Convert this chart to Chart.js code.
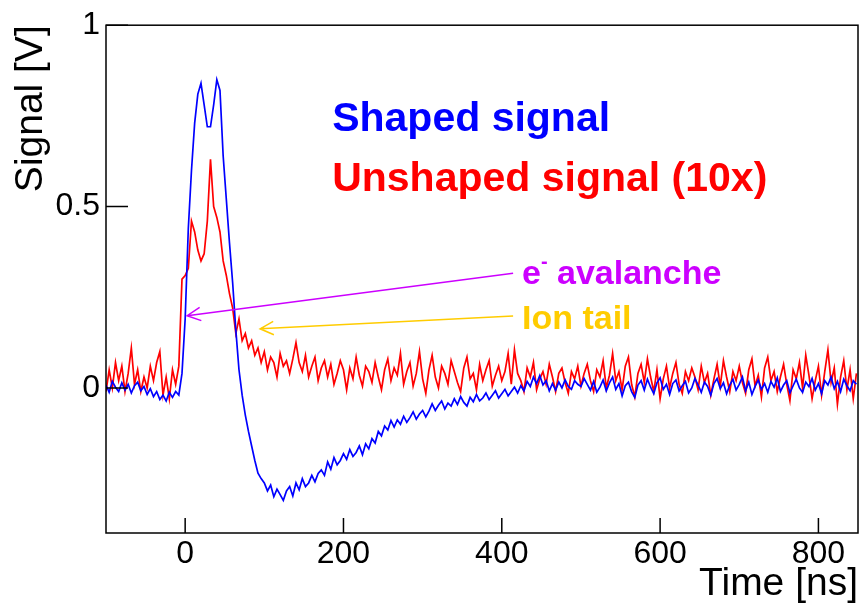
<!DOCTYPE html>
<html>
<head>
<meta charset="utf-8">
<script src="https://cdn.jsdelivr.net/npm/chart.js@4.4.1/dist/chart.umd.min.js"></script>
<style>
  html, body { margin: 0; padding: 0; background: #fff; }
</style>
</head>
<body>
<canvas id="signal" width="864" height="610"></canvas>
<script>
// scope traces, one sample every 4 ns starting at -100 ns
const t0 = -100
const dt = 4

// shaped signal [V]
const shaped = [
  0.008, -0.012, 0.018, 0.002, -0.010, 0.014, -0.006, 0.010, -0.014, 0.006,
  0.016, -0.008, 0.004, -0.018, -0.002, -0.024, -0.010, -0.032, -0.020, -0.036,
  -0.012, -0.026, -0.010, -0.020, 0.040, 0.190, 0.440, 0.600, 0.730, 0.810,
  0.840, 0.780, 0.720, 0.720, 0.780, 0.850, 0.820, 0.640, 0.520, 0.400,
  0.290, 0.160, 0.050, -0.020, -0.075, -0.120, -0.160, -0.200, -0.235, -0.250,
  -0.262, -0.284, -0.268, -0.300, -0.279, -0.294, -0.310, -0.284, -0.272, -0.298,
  -0.262, -0.281, -0.250, -0.272, -0.262, -0.241, -0.259, -0.236, -0.226, -0.241,
  -0.204, -0.224, -0.192, -0.212, -0.200, -0.181, -0.197, -0.170, -0.189, -0.178,
  -0.160, -0.184, -0.154, -0.168, -0.140, -0.152, -0.120, -0.132, -0.105, -0.116,
  -0.090, -0.108, -0.088, -0.100, -0.078, -0.095, -0.082, -0.066, -0.086, -0.072,
  -0.062, -0.080, -0.064, -0.044, -0.062, -0.048, -0.036, -0.058, -0.042, -0.050,
  -0.030, -0.046, -0.024, -0.040, -0.050, -0.026, -0.038, -0.018, -0.036, -0.028,
  -0.014, -0.032, -0.020, -0.008, -0.028, -0.016, -0.004, -0.022, -0.010, 0.002,
  -0.014, 0.006, -0.008, 0.018, 0.004, 0.030, 0.012, 0.034, 0.008, 0.020,
  -0.008, 0.012, -0.006, 0.016, 0.000, 0.022, 0.004, -0.004, 0.020, 0.010,
  0.004, 0.026, 0.010, -0.006, 0.018, -0.012, 0.002, 0.022, -0.008, 0.014,
  0.030, -0.004, 0.012, -0.022, 0.006, 0.016, -0.010, -0.026, 0.008, 0.020,
  -0.006, 0.024, 0.002, -0.016, 0.014, 0.028, -0.004, 0.010, -0.018, 0.012,
  0.022, -0.008, 0.006, 0.018, -0.014, 0.000, 0.026, 0.008, -0.012, 0.016,
  0.004, -0.020, 0.012, 0.026, -0.002, 0.014, -0.016, 0.008, 0.024, -0.006,
  0.010, 0.030, -0.008, 0.016, -0.018, 0.004, 0.022, -0.004, 0.012, -0.012,
  0.018, 0.002, 0.028, -0.010, 0.008, 0.020, -0.014, 0.006, 0.024, 0.000,
  -0.012, 0.016, 0.004, 0.026, -0.006, 0.012, -0.016, 0.020, 0.008, 0.030,
  -0.002, 0.018, -0.010, 0.024, 0.006, -0.008, 0.020, 0.010,
]

// unshaped signal, already scaled by 10 [V]
const unshaped = [
  -0.010, 0.050, 0.000, 0.070, 0.020, 0.060, -0.010, 0.040, 0.110, 0.010,
  0.050, -0.010, 0.030, 0.000, 0.060, 0.020, 0.070, 0.100, -0.020, 0.030,
  -0.030, 0.050, 0.010, 0.060, 0.300, 0.310, 0.330, 0.460, 0.430, 0.380,
  0.350, 0.370, 0.460, 0.630, 0.500, 0.470, 0.430, 0.350, 0.310, 0.260,
  0.220, 0.150, 0.190, 0.130, 0.150, 0.110, 0.130, 0.090, 0.110, 0.070,
  0.100, 0.050, 0.085, 0.070, 0.030, 0.095, 0.060, 0.075, 0.040, 0.080,
  0.125, 0.070, 0.045, 0.090, 0.030, 0.060, 0.085, 0.020, 0.055, 0.075,
  0.030, 0.065, 0.010, 0.040, 0.075, 0.050, -0.005, 0.055, 0.025, 0.085,
  0.035, 0.005, 0.060, 0.045, 0.015, 0.070, 0.030, -0.005, 0.050, 0.080,
  0.020, 0.055, 0.035, 0.095, 0.010, 0.045, 0.070, 0.005, 0.040, 0.100,
  0.025, -0.015, 0.050, 0.090, 0.030, 0.000, 0.060, 0.040, 0.010, 0.075,
  0.045, 0.015, -0.010, 0.055, 0.085, 0.025, 0.040, -0.005, 0.065, 0.020,
  0.050, 0.075, 0.005, 0.035, 0.060, 0.020, 0.045, 0.095, 0.010, 0.105,
  0.040, 0.020, -0.010, 0.055, 0.030, 0.070, -0.005, 0.025, 0.045, 0.010,
  0.065, 0.030, -0.010, 0.040, 0.055, 0.015, -0.015, 0.045, 0.025, 0.060,
  0.005, 0.040, 0.065, 0.020, -0.010, 0.050, 0.030, 0.075, 0.000, 0.035,
  0.095, 0.020, 0.045, -0.005, 0.060, 0.085, 0.010, -0.025, 0.040, 0.065,
  0.015, 0.080, 0.030, -0.010, 0.050, -0.030, 0.025, 0.060, 0.000, 0.040,
  0.070, 0.010, -0.015, 0.045, 0.020, 0.055, 0.030, -0.005, 0.060, 0.015,
  0.040, -0.020, 0.025, 0.065, 0.005, 0.075, 0.030, -0.010, 0.045, 0.020,
  0.060, 0.015, -0.015, 0.050, 0.080, 0.005, 0.035, -0.025, 0.055, 0.085,
  0.020, 0.045, -0.010, 0.030, 0.065, 0.010, -0.035, 0.050, 0.025, 0.070,
  0.000, 0.090, 0.035, -0.030, 0.020, 0.060, -0.020, 0.045, 0.105, 0.015,
  0.055, -0.045, 0.030, 0.075, -0.005, 0.050, -0.030, 0.040,
]

const xTicks = [0, 200, 400, 600, 800]
const yTicks = [0, 0.5, 1]

// text labels and arrows, anchored in data units
const notes = [
  { text: "Shaped signal", x: 185.7, y: 0.707, color: "#0000ff", size: 41 },
  { text: "Unshaped signal (10x)", x: 185.7, y: 0.543, color: "#ff0000", size: 41 },
  { text: "e", sup: "-", rest: " avalanche", x: 425.5, y: 0.286, color: "#cc00ff", size: 34 },
  { text: "Ion tail", x: 425.5, y: 0.163, color: "#ffcc00", size: 34 },
]
const arrows = [
  { from: [414.3, 0.316], to: [2.5, 0.199], color: "#cc00ff" },
  { from: [414.3, 0.198], to: [94.7, 0.163], color: "#ffcc00" },
]

const FONT = '"Liberation Sans", Arial, Helvetica, sans-serif'
Chart.defaults.font.family = FONT
Chart.defaults.color = "#000"

const toPoints = (values) => values.map((v, i) => ({ x: t0 + i * dt, y: v }))

// ROOT style box with inward ticks
const framePlugin = {
  id: "frame",
  afterDatasetsDraw(chart) {
    const { ctx, chartArea: a, scales: { x, y } } = chart
    ctx.save()
    ctx.strokeStyle = "#000"
    ctx.lineWidth = 1.5
    ctx.strokeRect(a.left, a.top, a.right - a.left, a.bottom - a.top)
    ctx.beginPath()
    xTicks.forEach((v) => {
      const px = x.getPixelForValue(v)
      ctx.moveTo(px, a.bottom)
      ctx.lineTo(px, a.bottom - 15)
    })
    yTicks.forEach((v) => {
      const py = y.getPixelForValue(v)
      ctx.moveTo(a.left, py)
      ctx.lineTo(a.left + 22, py)
    })
    ctx.stroke()
    ctx.restore()
  },
}

const notesPlugin = {
  id: "notes",
  afterDraw(chart) {
    const { ctx, scales: { x, y } } = chart
    ctx.save()

    arrows.forEach((ar) => {
      const x1 = x.getPixelForValue(ar.from[0]), y1 = y.getPixelForValue(ar.from[1])
      const x2 = x.getPixelForValue(ar.to[0]), y2 = y.getPixelForValue(ar.to[1])
      const ang = Math.atan2(y1 - y2, x1 - x2)
      ctx.strokeStyle = ar.color
      ctx.lineWidth = 1.5
      ctx.beginPath()
      ctx.moveTo(x1, y1)
      ctx.lineTo(x2, y2)
      ctx.moveTo(x2 + 15 * Math.cos(ang - 0.46), y2 + 15 * Math.sin(ang - 0.46))
      ctx.lineTo(x2, y2)
      ctx.lineTo(x2 + 15 * Math.cos(ang + 0.46), y2 + 15 * Math.sin(ang + 0.46))
      ctx.stroke()
    })

    ctx.textBaseline = "alphabetic"
    ctx.textAlign = "left"
    notes.forEach((n) => {
      let px = x.getPixelForValue(n.x)
      const py = y.getPixelForValue(n.y)
      ctx.fillStyle = n.color
      ctx.font = `bold ${n.size}px ${FONT}`
      ctx.fillText(n.text, px, py)
      if (!n.sup) return
      px += ctx.measureText(n.text).width
      ctx.font = `bold ${Math.round(n.size * 0.6)}px ${FONT}`
      ctx.fillText(n.sup, px, py - n.size * 0.48)
      px += ctx.measureText(n.sup).width
      ctx.font = `bold ${n.size}px ${FONT}`
      ctx.fillText(n.rest, px, py)
    })
    ctx.restore()
  },
}

new Chart(document.getElementById("signal"), {
  type: "line",
  data: {
    datasets: [
      {
        label: "Shaped signal",
        data: toPoints(shaped),
        borderColor: "#0000ff",
        backgroundColor: "#0000ff",
        borderWidth: 1.7,
        pointRadius: 0,
        tension: 0,
      },
      {
        label: "Unshaped signal (10x)",
        data: toPoints(unshaped),
        borderColor: "#ff0000",
        backgroundColor: "#ff0000",
        borderWidth: 1.7,
        pointRadius: 0,
        tension: 0,
      },
    ],
  },
  options: {
    responsive: false,
    animation: false,
    devicePixelRatio: 1,
    layout: { padding: { top: 21, right: 6, left: 0, bottom: 0 } },
    plugins: { legend: { display: false }, tooltip: { enabled: false } },
    scales: {
      x: {
        type: "linear",
        min: -100,
        max: 850,
        afterBuildTicks: (scale) => { scale.ticks = xTicks.map((v) => ({ value: v })) },
        afterFit: (scale) => { scale.height = 77 },
        grid: { display: false, drawTicks: false },
        border: { display: false },
        ticks: { font: { size: 32 }, padding: 2, maxRotation: 0, autoSkip: false },
        title: {
          display: true,
          text: "Time [ns]",
          align: "end",
          font: { size: 39 },
          padding: { top: 0, bottom: 2 },
        },
      },
      y: {
        min: -0.4,
        max: 1,
        afterBuildTicks: (scale) => { scale.ticks = yTicks.map((v) => ({ value: v })) },
        afterFit: (scale) => { scale.width = 106 },
        grid: { display: false, drawTicks: false },
        border: { display: false },
        ticks: { font: { size: 32 }, padding: 6, callback: (v) => String(v) },
        title: {
          display: true,
          text: "Signal [V]",
          align: "end",
          font: { size: 39 },
          padding: { top: 8, bottom: 0 },
        },
      },
    },
  },
  plugins: [framePlugin, notesPlugin],
})
</script>
</body>
</html>
